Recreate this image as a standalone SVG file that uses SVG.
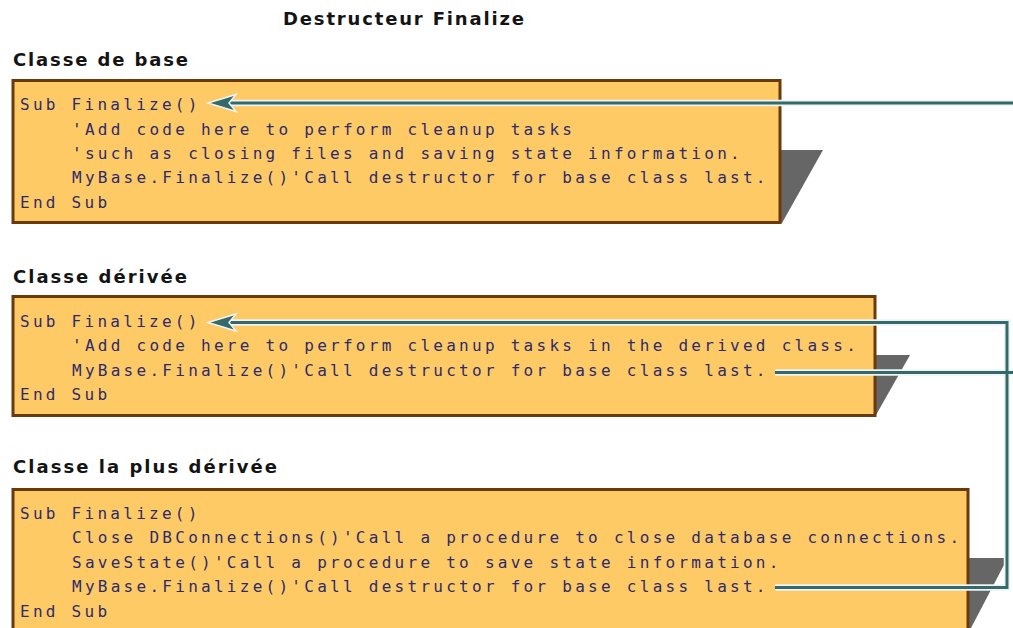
<svg xmlns="http://www.w3.org/2000/svg" width="1013" height="628" viewBox="0 0 1013 628">
  <style>
    .heading { font-family: "DejaVu Sans", Verdana, sans-serif; font-weight: bold; font-size: 18px; fill: #141414; }
    .box { fill: #fdca66; stroke: #6a3a0c; stroke-width: 3; }
    .shadow { fill: #666666; }
    .code { font-family: "DejaVu Sans Mono", "Liberation Mono", monospace; font-size: 16px; letter-spacing: 3.27px; fill: #2d2b6c; }
    .halo { fill: none; stroke: #eef4f4; stroke-width: 6.5; stroke-linejoin: miter; }
    .wire { fill: none; stroke: #356a6a; stroke-width: 3; stroke-linejoin: miter; }
    .head { fill: #356a6a; stroke: #eef4f4; stroke-width: 1.5; stroke-linejoin: miter; }
  </style>

  <rect width="1013" height="628" fill="#ffffff"/>

  <text class="heading" x="283" y="25" textLength="241" lengthAdjust="spacing">Destructeur Finalize</text>

  <!-- base class -->
  <g id="base-class">
    <text class="heading" x="13" y="66" textLength="175" lengthAdjust="spacing">Classe de base</text>
    <polygon class="shadow" points="778,150 823,150 782,223 778,223"/>
    <rect class="box" x="13" y="80.5" width="767" height="142"/>
    <text class="code" x="20" y="110">Sub Finalize()</text>
    <text class="code" x="72" y="134.5">'Add code here to perform cleanup tasks</text>
    <text class="code" x="72" y="158.5">'such as closing files and saving state information.</text>
    <text class="code" x="72" y="183">MyBase.Finalize()'Call destructor for base class last.</text>
    <text class="code" x="20" y="207.5">End Sub</text>
  </g>

  <!-- derived class -->
  <g id="derived-class">
    <text class="heading" x="13" y="283" textLength="174" lengthAdjust="spacing">Classe dérivée</text>
    <polygon class="shadow" points="873,355 910,355 876,415 873,415"/>
    <rect class="box" x="13" y="296.5" width="862" height="119"/>
    <text class="code" x="20" y="327">Sub Finalize()</text>
    <text class="code" x="72" y="351">'Add code here to perform cleanup tasks in the derived class.</text>
    <text class="code" x="72" y="375.5">MyBase.Finalize()'Call destructor for base class last.</text>
    <text class="code" x="20" y="400">End Sub</text>
  </g>

  <!-- most derived class -->
  <g id="most-derived-class">
    <text class="heading" x="13" y="473" textLength="264" lengthAdjust="spacing">Classe la plus dérivée</text>
    <polygon class="shadow" points="966,558 1005,558 1005,563 971,628 966,628"/>
    <rect class="box" x="13" y="489.5" width="955" height="150"/>
    <text class="code" x="20" y="518.5">Sub Finalize()</text>
    <text class="code" x="72" y="543">Close DBConnections()'Call a procedure to close database connections.</text>
    <text class="code" x="72" y="567.5">SaveState()'Call a procedure to save state information.</text>
    <text class="code" x="72" y="592">MyBase.Finalize()'Call destructor for base class last.</text>
    <text class="code" x="20" y="616.5">End Sub</text>
  </g>

  <!-- call chain connectors -->
  <g id="connectors">
    <path class="halo" d="M230,103 H1013"/>
    <path class="halo" d="M230,322.5 H1007 V587.5 H775"/>
    <path class="halo" d="M775,372.5 H1013"/>
    <path class="wire" d="M230,103 H1013"/>
    <path class="wire" d="M230,322.5 H1007 V587.5 H775"/>
    <path class="wire" d="M775,372.5 H1013"/>
    <polygon class="head" points="208,103 236,94.5 229,103 236,111.5"/>
    <polygon class="head" points="208,322.5 236,314 229,322.5 236,331"/>
  </g>
</svg>
